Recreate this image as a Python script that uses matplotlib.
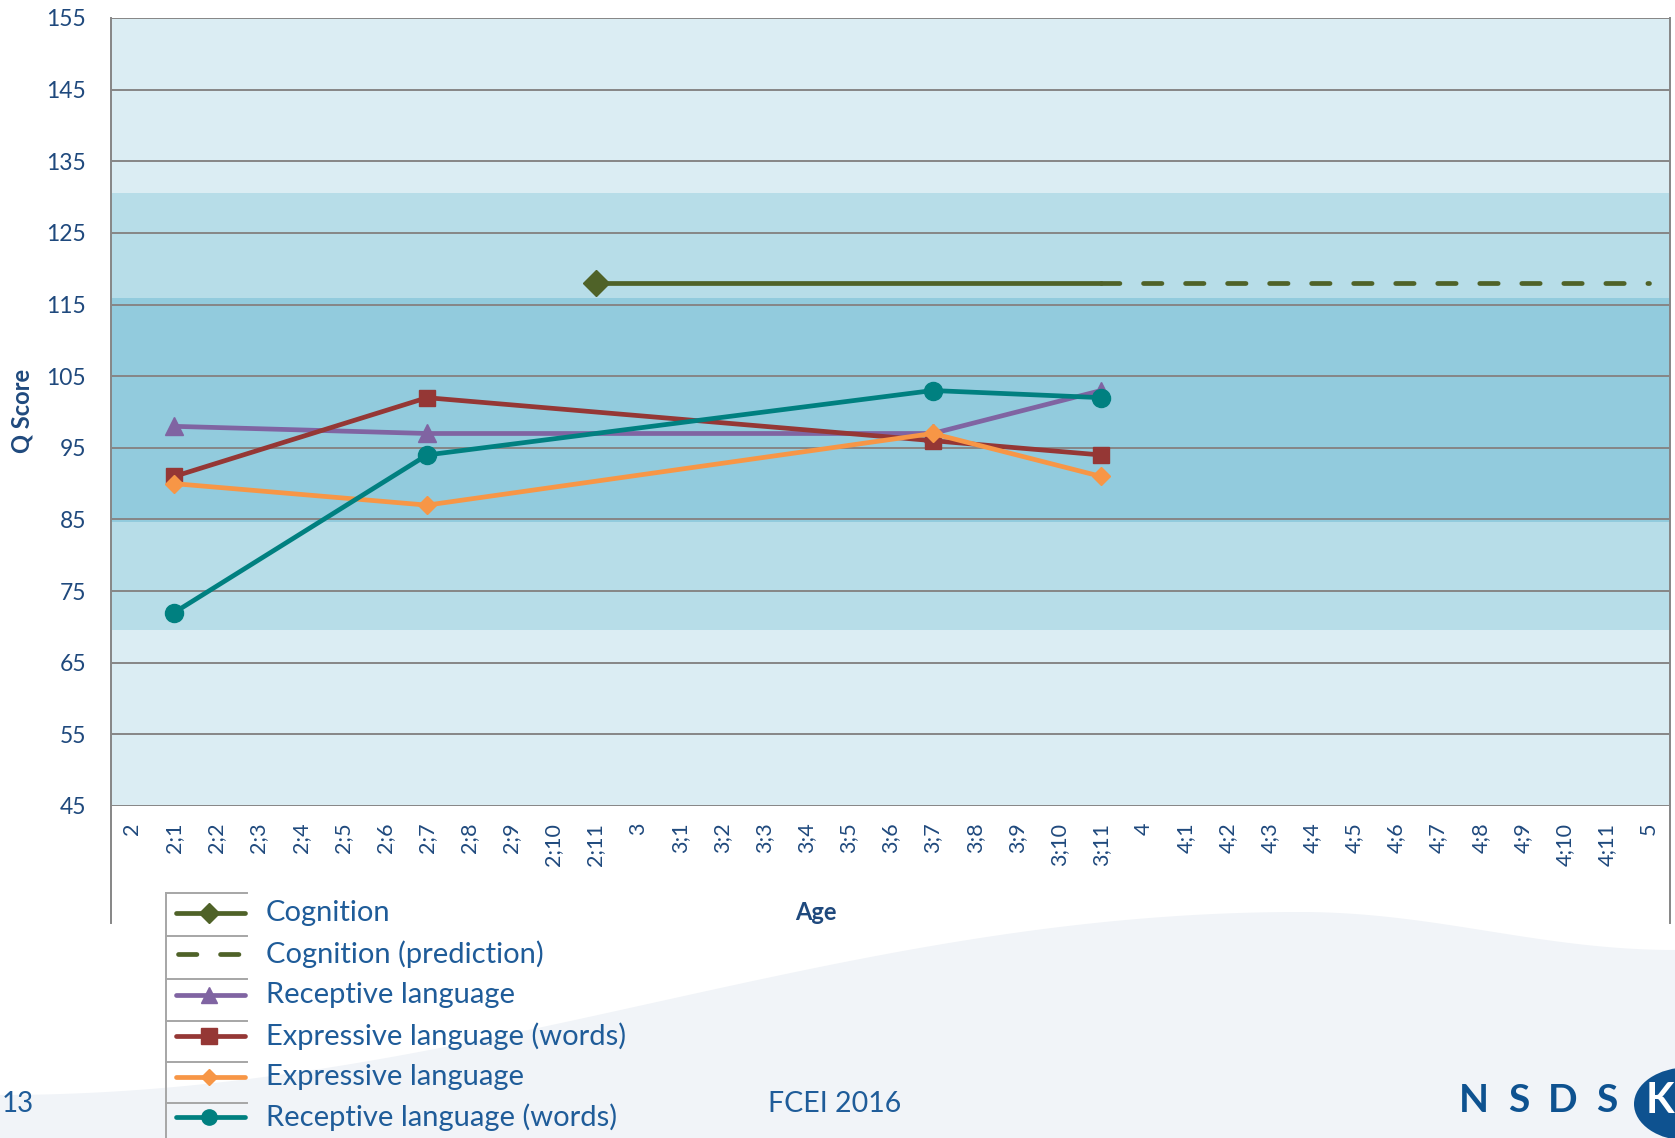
import numpy as np
import matplotlib
matplotlib.use("Agg")
import matplotlib.pyplot as plt
from matplotlib.lines import Line2D
from matplotlib.patches import Polygon, Circle

plt.rcParams['font.family'] = ['Lato', 'DejaVu Sans']

# ---------------- data ----------------
ages = ['2'] + [f'2;{m}' for m in range(1, 12)] + ['3'] + [f'3;{m}' for m in range(1, 12)] + \
       ['4'] + [f'4;{m}' for m in range(1, 12)] + ['5']

measure_ages = ['2;1', '2;7', '3;7', '3;11']
receptive = [98, 97, 97, 103]
expressive_words = [91, 102, 96, 94]
expressive = [90, 87, 97, 91]
receptive_words = [72, 94, 103, 102]

cognition_ages = ['2;11', '3;11']
cognition = [118, 118]
cognition_pred_ages = ['3;11', '5']
cognition_pred = [118, 118]

band_edges = [45, 69.6, 84.6, 115.9, 130.6, 155]
band_colors = ['#dbedf3', '#b7dde8', '#92cbdd', '#b7dde8', '#dbedf3']

yticks = list(range(45, 156, 10))

# ---------------- figure ----------------
W, H = 1675, 1138
fig = plt.figure(figsize=(W / 100, H / 100), dpi=100)
fig.patch.set_facecolor('white')

def fx(px):
    return px / W

def fy(py):
    return 1 - py / H

# bottom wave decoration (smooth curve)
t = np.linspace(0, W, 200)
crest_x, crest_y = 1300, 912
wave = np.where(t < crest_x,
                crest_y + (1095 - crest_y) * (0.5 + 0.5 * np.cos(np.pi * t / crest_x)),
                crest_y + (950 - crest_y) * (0.5 - 0.5 * np.cos(np.pi * (t - crest_x) / (W - crest_x))))
wx = np.concatenate([t, [W, 0]])
wy = np.concatenate([wave, [H, H]])
fig.patches.append(Polygon(np.column_stack([wx / W, 1 - wy / H]), closed=True,
                           transform=fig.transFigure, facecolor='#f1f4f8',
                           edgecolor='none', zorder=0))

ax_left, ax_right, ax_top, ax_bot = 111, 1670, 18, 806
ax = fig.add_axes([fx(ax_left), fy(ax_bot), fx(ax_right - ax_left), (ax_bot - ax_top) / H])
ax.set_facecolor('none')

idx = {a: i for i, a in enumerate(ages)}

for lo, hi, c in zip(band_edges[:-1], band_edges[1:], band_colors):
    ax.axhspan(lo, hi, color=c, lw=0, zorder=0)
for yv in yticks:
    ax.axhline(yv, color='#868686', lw=1.4, zorder=1)

lw = 3.4
ax.plot([idx[a] for a in cognition_ages], cognition, color='#4f6228', lw=lw,
        marker='D', markersize=13.5, markevery=[0], solid_capstyle='round', zorder=3)
ax.plot([idx[a] for a in cognition_pred_ages], cognition_pred, color='#4f6228', lw=lw,
        linestyle=(0, (3.9, 5.0)), dash_capstyle='round', zorder=3)
mx = [idx[a] for a in measure_ages]
ax.plot(mx, receptive, color='#8064a2', lw=lw, marker='^', markersize=12.5, zorder=4)
ax.plot(mx, expressive_words, color='#953735', lw=lw, marker='s', markersize=12, zorder=5)
ax.plot(mx, expressive, color='#f79646', lw=lw, marker='D', markersize=9, zorder=6)
ax.plot(mx, receptive_words, color='#008080', lw=lw, marker='o', markersize=13, zorder=7)

ax.set_xlim(-0.5, len(ages) - 0.5)
ax.set_ylim(45, 155)
ax.set_yticks(yticks)
ax.set_xticks(range(len(ages)))
ax.set_xticklabels(ages, rotation=90)
ax.tick_params(axis='y', length=0, pad=18, labelsize=16.5, labelcolor='#1f497d')
ax.tick_params(axis='x', length=0, pad=12, labelsize=15.5, labelcolor='#1f497d')
for s in ax.spines.values():
    s.set_visible(False)

# chart frame verticals
for xp in (ax_left, ax_right):
    fig.add_artist(Line2D([fx(xp), fx(xp)], [fy(ax_top), fy(923)], transform=fig.transFigure,
                          color='#868686', lw=1.4, zorder=2))

fig.text(fx(22), fy(411), 'Q Score', rotation=90, ha='center', va='center',
         fontsize=17, fontweight='bold', color='#1f497d')
fig.text(fx(816), fy(913), 'Age', ha='center', va='center',
         fontsize=17, fontweight='bold', color='#1f497d')

# legend (data-table style)
leg_items = [
    ('Cognition', '#4f6228', '-', 'D', 10),
    ('Cognition (prediction)', '#4f6228', (0, (3.9, 5.0)), None, 0),
    ('Receptive language', '#8064a2', '-', '^', 11),
    ('Expressive language (words)', '#953735', '-', 's', 11),
    ('Expressive language', '#f79646', '-', 'D', 8),
    ('Receptive language (words)', '#008080', '-', 'o', 11),
]
sep_y = [893, 936, 979, 1021, 1062, 1103]
row_y = [913, 954, 995, 1036, 1077, 1117]
fig.add_artist(Line2D([fx(166), fx(166)], [fy(893), fy(1138)], transform=fig.transFigure,
                      color='#a6a6a6', lw=1.4))
for sy in sep_y:
    fig.add_artist(Line2D([fx(166), fx(247)], [fy(sy), fy(sy)], transform=fig.transFigure,
                          color='#a6a6a6', lw=1.4))
for (lab, c, ls, mk, ms), ry in zip(leg_items, row_y):
    if mk is None:
        fig.add_artist(Line2D([fx(178), fx(242)], [fy(ry), fy(ry)], transform=fig.transFigure,
                              color=c, lw=lw, linestyle=ls, dash_capstyle='round'))
    else:
        fig.add_artist(Line2D([fx(176), fx(245)], [fy(ry), fy(ry)], transform=fig.transFigure,
                              color=c, lw=lw, solid_capstyle='round'))
        fig.add_artist(Line2D([fx(209)], [fy(ry)], transform=fig.transFigure,
                              color=c, marker=mk, markersize=ms, lw=0))
    fig.text(fx(266), fy(ry), lab, ha='left', va='center', fontsize=21, color='#1f5c99')

# slide footer
fig.text(fx(2), fy(1104), '13', ha='left', va='center', fontsize=20, color='#1f5c99')
fig.text(fx(835), fy(1104), 'FCEI 2016', ha='center', va='center', fontsize=20.5, color='#1f5c99')

# logo
fig.patches.append(Circle((fx(1688), fy(1104)), 54 / W, transform=fig.transFigure,
                          facecolor='#0e5290', edgecolor='none', zorder=3))
for ch, xp in zip('NSDS', [1474, 1519, 1563, 1607]):
    fig.text(fx(xp), fy(1101), ch, ha='center', va='center', fontsize=28,
             fontweight='bold', color='#0e5290', zorder=4)
fig.text(fx(1660), fy(1101), 'K', ha='center', va='center', fontsize=30,
         fontweight='bold', color='white', zorder=5)

fig.savefig('out.png', dpi=100)
